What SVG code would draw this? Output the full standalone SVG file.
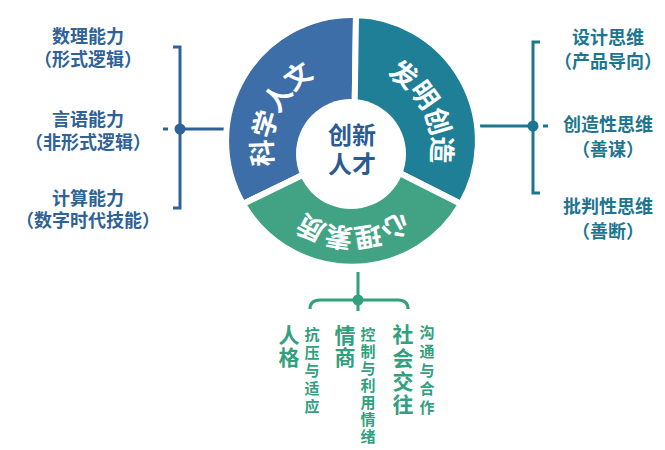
<svg xmlns="http://www.w3.org/2000/svg" xmlns:xlink="http://www.w3.org/1999/xlink" width="665" height="450" viewBox="0 0 665 450">
<style>
text{font-family:"Noto Sans CJK SC","Noto Sans",sans-serif;font-weight:700;text-anchor:middle;dominant-baseline:central}
.lt{fill:#2f6296;font-size:18px}
.rt{fill:#1d7690;font-size:18px}
.bt{fill:#31a07d;writing-mode:vertical-rl;text-anchor:start}
.big{font-size:21px;letter-spacing:1px}
.sm{font-size:15px;letter-spacing:3px}
.ring{font-size:27px;fill:#fff;letter-spacing:3px}
.seg{stroke:#fff;stroke-width:6;stroke-linejoin:miter}
.cl{fill:none;stroke-width:3;stroke-linecap:butt}
</style>
<defs>
<path id="arc" d="M352,56 A92 92 0 1 1 352,240 A92 92 0 1 1 352,56"/>
</defs>
<rect width="665" height="450" fill="#fff"/>
<g id="connectors">
<path class="cl" stroke="#2f6296" d="M173,47 H180 V208 H173 M180,129 H230 M163,129 H168"/>
<circle cx="180" cy="129" r="5.5" fill="#2f6296"/>
<path class="cl" stroke="#1d7690" d="M540,42 H533 V193 H540 M476,126 H533 M543,126 H548"/>
<circle cx="533" cy="126" r="5.5" fill="#1d7690"/>
<path class="cl" stroke="#31a07d" d="M358,272 V300 M310,309 Q310,300 320,300 H398 Q408,300 408,309 M358,305 V311"/>
<circle cx="358" cy="300" r="5.5" fill="#31a07d"/>
</g>
<g id="ring">
<path id="seg-kexue" class="seg" fill="#3d6ea8" d="M354,150 L243,204 A126 126 0 0 1 356,15 Z"/>
<path id="seg-faming" class="seg" fill="#1e7f96" d="M354,150 L356,15 A126 126 0 0 1 461,204 Z"/>
<path id="seg-xinli" class="seg" fill="#41a384" d="M354,150 L461,204 A126 126 0 0 1 243,204 Z"/>
<circle cx="351" cy="154" r="55" fill="#fff"/>
<text class="ring"><textPath xlink:href="#arc" href="#arc" startOffset="82.2%">科学人文</textPath></text>
<text class="ring"><textPath xlink:href="#arc" href="#arc" startOffset="17.8%">发明创造</textPath></text>
<text class="ring"><textPath xlink:href="#arc" href="#arc" startOffset="50%">心理素质</textPath></text>
</g>
<g id="center">
<text x="352" y="133" fill="#2c5b92" font-size="24">创新</text>
<text x="352" y="162" fill="#2c5b92" font-size="24">人才</text>
</g>
<g id="left-nodes">
<g id="shuli"><text class="lt" x="88" y="35">数理能力</text><text class="lt" x="88" y="58">（形式逻辑）</text></g>
<g id="yanyu"><text class="lt" x="88" y="118">言语能力</text><text class="lt" x="88" y="141">（非形式逻辑）</text></g>
<g id="jisuan"><text class="lt" x="88" y="197">计算能力</text><text class="lt" x="88" y="219">（数字时代技能）</text></g>
</g>
<g id="right-nodes">
<g id="sheji"><text class="rt" x="608" y="36">设计思维</text><text class="rt" x="608" y="60">（产品导向）</text></g>
<g id="chuangzao"><text class="rt" x="608" y="123">创造性思维</text><text class="rt" x="608" y="148">（善谋）</text></g>
<g id="pipan"><text class="rt" x="608" y="205">批判性思维</text><text class="rt" x="608" y="230">（善断）</text></g>
</g>
<g id="bottom-nodes">
<g id="renge">
<text class="bt big" x="289" y="325">人格</text>
<text class="bt sm" x="312" y="327">抗压与适应</text>
</g>
<g id="qingshang">
<text class="bt big" x="345" y="325">情商</text>
<text class="bt sm" x="368" y="327" style="letter-spacing:2px">控制与利用情绪</text>
</g>
<g id="shehui">
<text class="bt big" x="403" y="324" style="letter-spacing:2.3px">社会交往</text>
<text class="bt sm" x="427" y="325" style="letter-spacing:3.7px">沟通与合作</text>
</g>
</g>
</svg>
